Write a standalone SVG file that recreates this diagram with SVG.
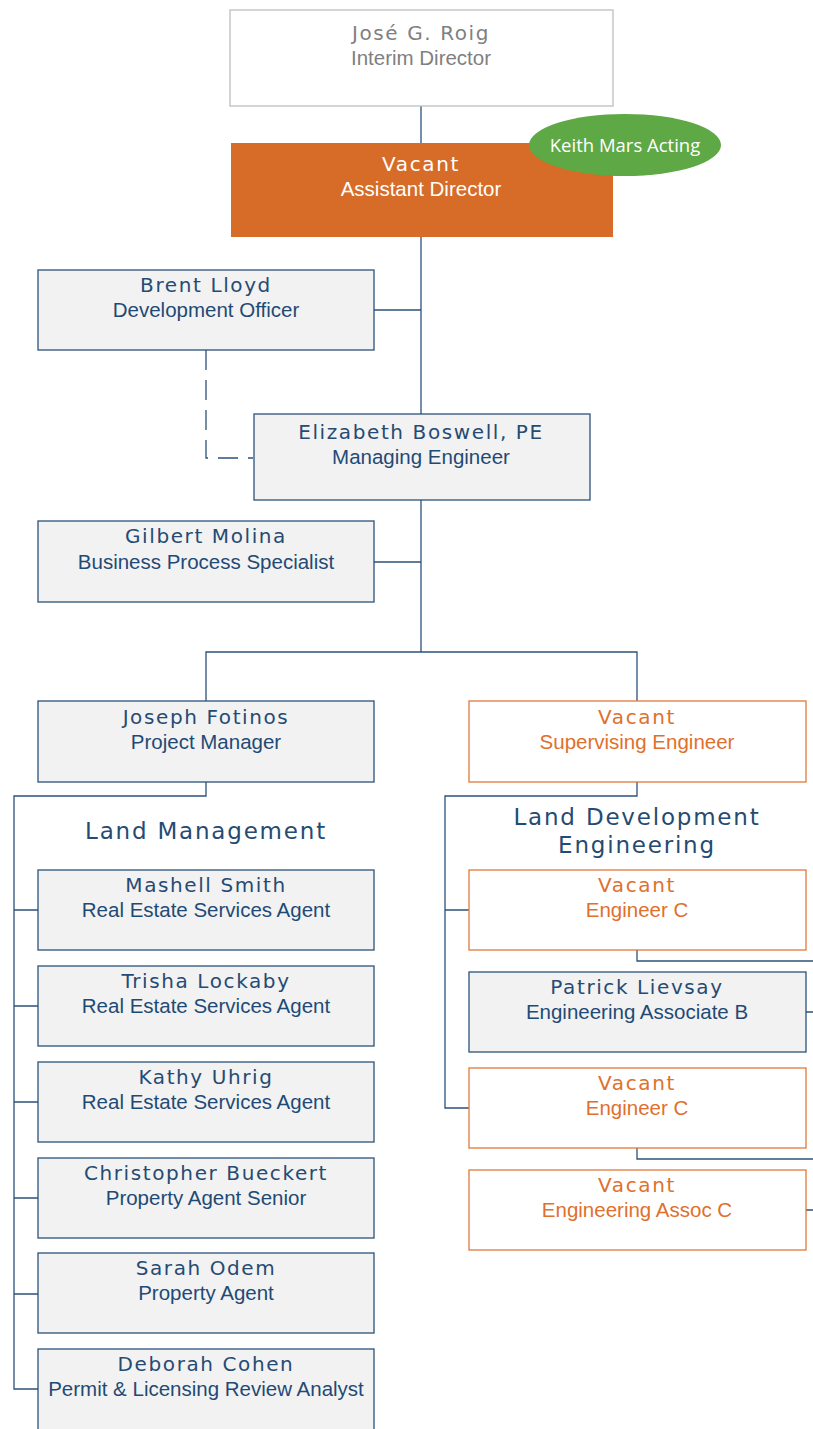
<svg xmlns="http://www.w3.org/2000/svg" width="813" height="1429" viewBox="0 0 813 1429">
<style>
.bx{fill:#f2f2f2;stroke:#2b527a;stroke-width:1.3}
.vb{fill:#ffffff;stroke:#e07a3a;stroke-width:1.3}
.nm{font-family:"DejaVu Sans",sans-serif;font-size:20px;letter-spacing:1.6px;fill:#264b73;text-anchor:middle}
.tt{font-family:"Liberation Sans",Arial,sans-serif;font-size:20.5px;fill:#1f4a75;text-anchor:middle}
.vo{fill:#e0702c}
.hd{font-family:"DejaVu Sans",sans-serif;font-size:23px;letter-spacing:1.8px;fill:#264b73;text-anchor:middle}
.ln{fill:none;stroke:#2b527a;stroke-width:1.3}
</style>
<g id="connectors">
<path class="ln" d="M421 106V143M421 237V414M374 310H421M421 500V652M374 562H421M206 701V652H637V701"/>
<path class="ln" d="M206 350V458H253" stroke-dasharray="20,10"/>
<path class="ln" d="M206 782V796H14V1389H38M14 910H38M14 1006H38M14 1102H38M14 1198H38M14 1294H38"/>
<path class="ln" d="M637 782V796H445V1108H469M445 910H469"/>
<path class="ln" d="M637 950V961H813M806 1012H813M637 1148V1159H813M806 1210H813"/>
</g>
<g id="director">
<rect x="230" y="10" width="383" height="96" fill="#fff" stroke="#bfbfbf" stroke-width="1.3"/>
<text class="nm" x="421" y="40" style="fill:#808080">José G. Roig</text>
<text class="tt" x="421" y="65" style="fill:#7f7f7f">Interim Director</text>
</g>
<g id="assistant">
<rect x="231" y="143" width="382" height="94" fill="#d66c27"/>
<text class="nm" x="421" y="171" style="fill:#fff">Vacant</text>
<text class="tt" x="421" y="196" style="fill:#fff">Assistant Director</text>
</g>
<g id="acting">
<ellipse cx="625" cy="145" rx="96" ry="31" fill="#5ea845"/>
<text x="625" y="151.500" font-family="'Open Sans','Liberation Sans',sans-serif" font-size="18.5" fill="#fff" text-anchor="middle">Keith Mars Acting</text>
</g>
<g id="lloyd">
<rect class="bx" x="38" y="270" width="336" height="80"/>
<text class="nm" x="206" y="292">Brent Lloyd</text>
<text class="tt" x="206" y="317">Development Officer</text>
</g>
<g id="boswell">
<rect class="bx" x="254" y="414" width="336" height="86"/>
<text class="nm" x="421" y="439">Elizabeth Boswell, PE</text>
<text class="tt" x="421" y="464">Managing Engineer</text>
</g>
<g id="molina">
<rect class="bx" x="38" y="521" width="336" height="81"/>
<text class="nm" x="206" y="543">Gilbert Molina</text>
<text class="tt" x="206" y="569">Business Process Specialist</text>
</g>
<g id="fotinos">
<rect class="bx" x="38" y="701" width="336" height="81"/>
<text class="nm" x="206" y="724">Joseph Fotinos</text>
<text class="tt" x="206" y="749">Project Manager</text>
</g>
<g id="supervising">
<rect class="vb" x="469" y="701" width="337" height="81"/>
<text class="nm vo" x="637" y="724">Vacant</text>
<text class="tt vo" x="637" y="749">Supervising Engineer</text>
</g>
<g id="land-management-label">
<text class="hd" x="206" y="839">Land Management</text>
</g>
<g id="land-dev-label">
<text class="hd" x="637" y="825">Land Development</text>
<text class="hd" x="637" y="853">Engineering</text>
</g>
<g id="smith">
<rect class="bx" x="38" y="870" width="336" height="80"/>
<text class="nm" x="206" y="892">Mashell Smith</text>
<text class="tt" x="206" y="917">Real Estate Services Agent</text>
</g>
<g id="lockaby">
<rect class="bx" x="38" y="966" width="336" height="80"/>
<text class="nm" x="206" y="988">Trisha Lockaby</text>
<text class="tt" x="206" y="1013">Real Estate Services Agent</text>
</g>
<g id="uhrig">
<rect class="bx" x="38" y="1062" width="336" height="80"/>
<text class="nm" x="206" y="1084">Kathy Uhrig</text>
<text class="tt" x="206" y="1109">Real Estate Services Agent</text>
</g>
<g id="bueckert">
<rect class="bx" x="38" y="1158" width="336" height="80"/>
<text class="nm" x="206" y="1180">Christopher Bueckert</text>
<text class="tt" x="206" y="1205">Property Agent Senior</text>
</g>
<g id="odem">
<rect class="bx" x="38" y="1253" width="336" height="80"/>
<text class="nm" x="206" y="1275">Sarah Odem</text>
<text class="tt" x="206" y="1300">Property Agent</text>
</g>
<g id="cohen">
<rect class="bx" x="38" y="1349" width="336" height="90"/>
<text class="nm" x="206" y="1371">Deborah Cohen</text>
<text class="tt" x="206" y="1396">Permit &amp; Licensing Review Analyst</text>
</g>
<g id="engc1">
<rect class="vb" x="469" y="870" width="337" height="80"/>
<text class="nm vo" x="637" y="892">Vacant</text>
<text class="tt vo" x="637" y="917">Engineer C</text>
</g>
<g id="lievsay">
<rect class="bx" x="469" y="972" width="337" height="80"/>
<text class="nm" x="637" y="994">Patrick Lievsay</text>
<text class="tt" x="637" y="1019">Engineering Associate B</text>
</g>
<g id="engc2">
<rect class="vb" x="469" y="1068" width="337" height="80"/>
<text class="nm vo" x="637" y="1090">Vacant</text>
<text class="tt vo" x="637" y="1115">Engineer C</text>
</g>
<g id="assocc">
<rect class="vb" x="469" y="1170" width="337" height="80"/>
<text class="nm vo" x="637" y="1192">Vacant</text>
<text class="tt vo" x="637" y="1217">Engineering Assoc C</text>
</g>
</svg>
